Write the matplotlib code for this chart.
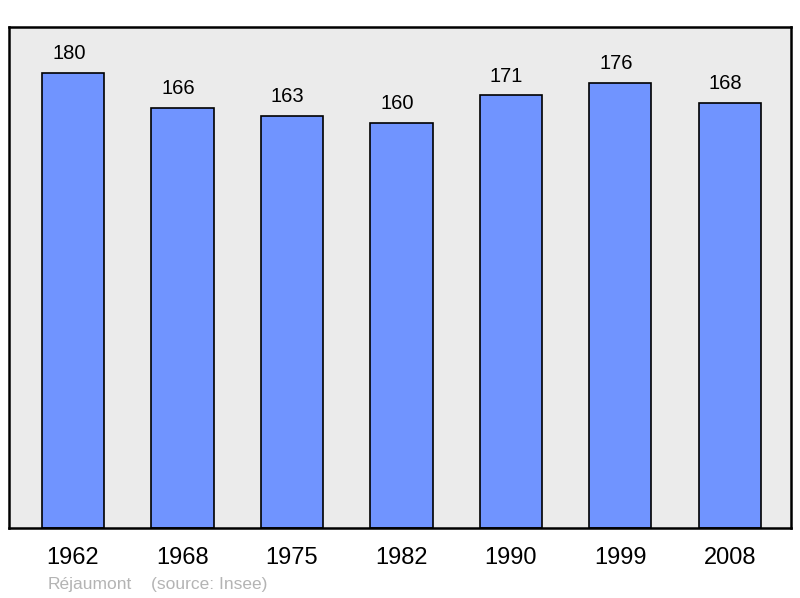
import matplotlib.pyplot as plt

years = ['1962', '1968', '1975', '1982', '1990', '1999', '2008']
population = [180, 166, 163, 160, 171, 176, 168]
commune = 'Réjaumont'
source = '(source: Insee)'

plt.rcParams['font.family'] = ['Liberation Sans', 'DejaVu Sans']

fig = plt.figure(figsize=(8.0, 5.98), dpi=100)
ax = fig.add_axes([9 / 800, 1 - 528 / 598, 782 / 800, 501 / 598])
ax.set_facecolor('#ebebeb')

x = range(len(years))
ax.bar(x, population, width=0.57, color='#7094ff', edgecolor='black', linewidth=1.2, zorder=2)
for i, v in enumerate(population):
    ax.annotate(str(v), (i, v), xytext=(-3, 7), textcoords='offset points',
                ha='center', va='bottom', fontsize=14.5)

ax.set_xlim(-0.585, 6.56)
ax.set_ylim(0, 198)
ax.set_xticks(list(x))
ax.set_xticklabels(years, fontsize=17)
ax.tick_params(axis='x', length=0, pad=14)
ax.set_yticks([])
for s in ax.spines.values():
    s.set_linewidth(1.8)

fig.text(48 / 800, 1 - 584 / 598, commune, color='#b4b4b4', fontsize=12.5, va='center')
fig.text(151 / 800, 1 - 584 / 598, source, color='#b4b4b4', fontsize=12.5, va='center')

fig.savefig('out.png', dpi=100)
